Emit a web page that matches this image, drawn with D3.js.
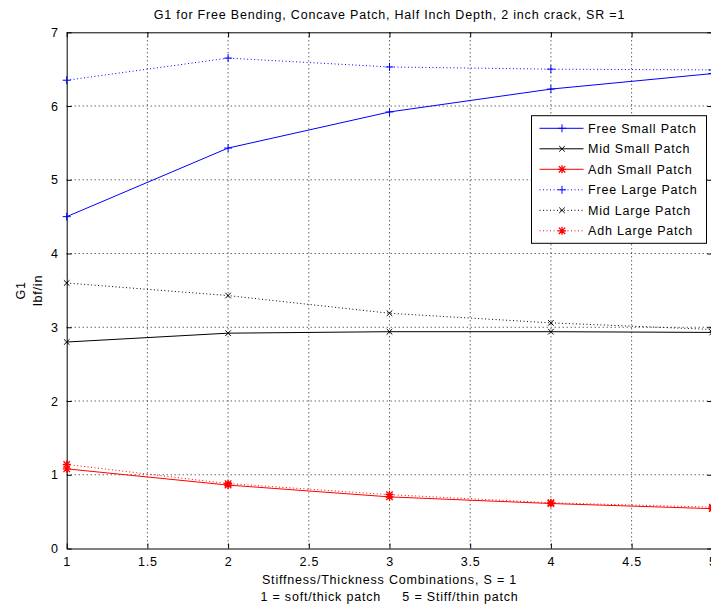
<!DOCTYPE html>
<html>
<head>
<meta charset="utf-8">
<script src="https://cdn.jsdelivr.net/npm/d3@7"></script>
<style>
html,body{margin:0;padding:0;background:#fff;overflow:hidden;}
svg{display:block;font-family:"Liberation Sans",Arial,sans-serif;}
svg text{letter-spacing:0.8px;}
</style>
</head>
<body>
<svg id="chart" width="711" height="607"></svg>
<script>
const xValues = [1, 2, 3, 4, 5];
const freeSmall = [4.50, 5.43, 5.92, 6.23, 6.44];
const midSmall  = [2.80, 2.92, 2.94, 2.94, 2.93];
const adhSmall  = [1.08, 0.86, 0.70, 0.61, 0.54];
const freeLarge = [6.35, 6.65, 6.53, 6.50, 6.49];
const midLarge  = [3.60, 3.43, 3.19, 3.06, 2.97];
const adhLarge  = [1.14, 0.88, 0.73, 0.62, 0.56];
const seriesNames = ["Free Small Patch","Mid Small Patch","Adh Small Patch","Free Large Patch","Mid Large Patch","Adh Large Patch"];
const xTicks = [1, 1.5, 2, 2.5, 3, 3.5, 4, 4.5, 5];
const yTicks = [0, 1, 2, 3, 4, 5, 6, 7];
const titleText = "G1 for Free Bending, Concave Patch, Half Inch Depth, 2 inch crack, SR =1";
const xLabel1 = "Stiffness/Thickness Combinations, S = 1";
const xLabel2 = "1 = soft/thick patch     5 = Stiff/thin patch";
const yLabel1 = "G1";
const yLabel2 = "lbf/in";

const series = [
  {name: seriesNames[0], values: freeSmall, color: "#0000ff", dash: null, marker: "plus"},
  {name: seriesNames[1], values: midSmall,  color: "#000000", dash: null, marker: "x"},
  {name: seriesNames[2], values: adhSmall,  color: "#ff0000", dash: null, marker: "star"},
  {name: seriesNames[3], values: freeLarge, color: "#0000ff", dash: "1,2.5", marker: "plus"},
  {name: seriesNames[4], values: midLarge,  color: "#000000", dash: "1,2.5", marker: "x"},
  {name: seriesNames[5], values: adhLarge,  color: "#ff0000", dash: "1,2.5", marker: "star"}
];

const svg = d3.select("#chart");
const L = 66.7, R = 712.3, T = 32.3, B = 548.5;
const x = d3.scaleLinear().domain([1, 5]).range([L, R]);
const y = d3.scaleLinear().domain([0, 7]).range([B, T]);

// grid
const grid = svg.append("g");
grid.selectAll("line.gx").data(xTicks.slice(1, -1)).enter().append("line")
  .attr("x1", d => x(d)).attr("x2", d => x(d)).attr("y1", T).attr("y2", B)
  .attr("stroke", "#222").attr("stroke-width", 1).attr("stroke-dasharray", "1,3");
grid.selectAll("line.gy").data(yTicks.slice(1, -1)).enter().append("line")
  .attr("y1", d => y(d)).attr("y2", d => y(d)).attr("x1", L).attr("x2", R)
  .attr("stroke", "#222").attr("stroke-width", 1).attr("stroke-dasharray", "1,3");

// axes
const fs = 12.5;
const xAxis = d3.axisBottom(x).tickValues(xTicks).tickFormat(d3.format("")).tickSizeInner(-5).tickSizeOuter(0).tickPadding(9);
const gx = svg.append("g").attr("transform", `translate(0,${B})`).call(xAxis);
const xTop = d3.axisTop(x).tickValues(xTicks).tickFormat("").tickSizeInner(-5).tickSizeOuter(0);
const gxt = svg.append("g").attr("transform", `translate(0,${T})`).call(xTop);
const yAxis = d3.axisLeft(y).tickValues(yTicks).tickFormat(d3.format("")).tickSizeInner(-5).tickSizeOuter(0).tickPadding(8);
const gy = svg.append("g").attr("transform", `translate(${L},0)`).call(yAxis);
const yRight = d3.axisRight(y).tickValues(yTicks).tickFormat("").tickSizeInner(-5).tickSizeOuter(0);
const gyr = svg.append("g").attr("transform", `translate(${R},0)`).call(yRight);
[gx, gxt, gy, gyr].forEach(g => {
  g.select(".domain").attr("stroke", "#000").attr("stroke-width", 1);
  g.selectAll(".tick line").attr("stroke", "#000");
  g.selectAll("text").attr("font-size", fs).attr("fill", "#000")
    .attr("font-family", "'Liberation Sans', Arial, sans-serif");
});

// markers
function drawMarker(g, type, cx, cy, color) {
  const s = 4;
  if (type === "plus") {
    g.append("path").attr("d", `M${cx - s},${cy}H${cx + s}M${cx},${cy - s}V${cy + s}`)
      .attr("stroke", color).attr("stroke-width", 1).attr("fill", "none");
  } else if (type === "x") {
    const t = 2.8;
    g.append("path").attr("d", `M${cx - t},${cy - t}L${cx + t},${cy + t}M${cx - t},${cy + t}L${cx + t},${cy - t}`)
      .attr("stroke", color).attr("stroke-width", 1).attr("fill", "none");
  } else {
    const t = 3.2;
    g.append("path").attr("d", `M${cx - s},${cy}H${cx + s}M${cx},${cy - s}V${cy + s}M${cx - t},${cy - t}L${cx + t},${cy + t}M${cx - t},${cy + t}L${cx + t},${cy - t}`)
      .attr("stroke", color).attr("stroke-width", 1.3).attr("fill", "none");
  }
}

const line = d3.line().x(d => x(d[0])).y(d => y(d[1]));
const plot = svg.append("g");
series.slice().reverse().forEach(s => {
  const pts = xValues.map((xv, i) => [xv, s.values[i]]);
  const p = plot.append("path").datum(pts).attr("d", line)
    .attr("fill", "none").attr("stroke", s.color).attr("stroke-width", 1);
  if (s.dash) p.attr("stroke-dasharray", s.dash);
  pts.forEach(pt => drawMarker(plot, s.marker, x(pt[0]), y(pt[1]), s.color));
});

// legend
const lg = svg.append("g");
const lx = 531.5, ly = 115.7, lw = 175, lh = 127.6;
lg.append("rect").attr("x", lx).attr("y", ly).attr("width", lw).attr("height", lh)
  .attr("fill", "#fff").attr("stroke", "#000").attr("stroke-width", 1);
series.forEach((s, i) => {
  const yy = ly + 12.6 + i * 20.5;
  const ln = lg.append("line").attr("x1", lx + 8).attr("x2", lx + 52).attr("y1", yy).attr("y2", yy)
    .attr("stroke", s.color).attr("stroke-width", 1);
  if (s.dash) ln.attr("stroke-dasharray", s.dash);
  drawMarker(lg, s.marker, lx + 30.5, yy, s.color);
  lg.append("text").attr("x", lx + 56.5).attr("y", yy).attr("dy", "0.35em")
    .attr("font-size", fs).text(s.name);
});

// title & labels
const cx = (L + R) / 2;
svg.append("text").attr("x", cx).attr("y", 15).attr("dy", "0.35em").attr("text-anchor", "middle")
  .attr("font-size", fs).text(titleText);
svg.append("text").attr("x", cx).attr("y", 580).attr("dy", "0.35em").attr("text-anchor", "middle")
  .attr("font-size", fs).text(xLabel1);
svg.append("text").attr("x", cx).attr("y", 597).attr("dy", "0.35em").attr("text-anchor", "middle")
  .attr("font-size", fs).attr("xml:space", "preserve").style("white-space", "pre").text(xLabel2);
svg.append("text").attr("transform", `translate(20.7,${(T + B) / 2}) rotate(-90)`).attr("dy", "0.35em")
  .attr("text-anchor", "middle").attr("font-size", fs).text(yLabel1);
svg.append("text").attr("transform", `translate(37.7,${(T + B) / 2}) rotate(-90)`).attr("dy", "0.35em")
  .attr("text-anchor", "middle").attr("font-size", fs).text(yLabel2);
</script>
</body>
</html>
